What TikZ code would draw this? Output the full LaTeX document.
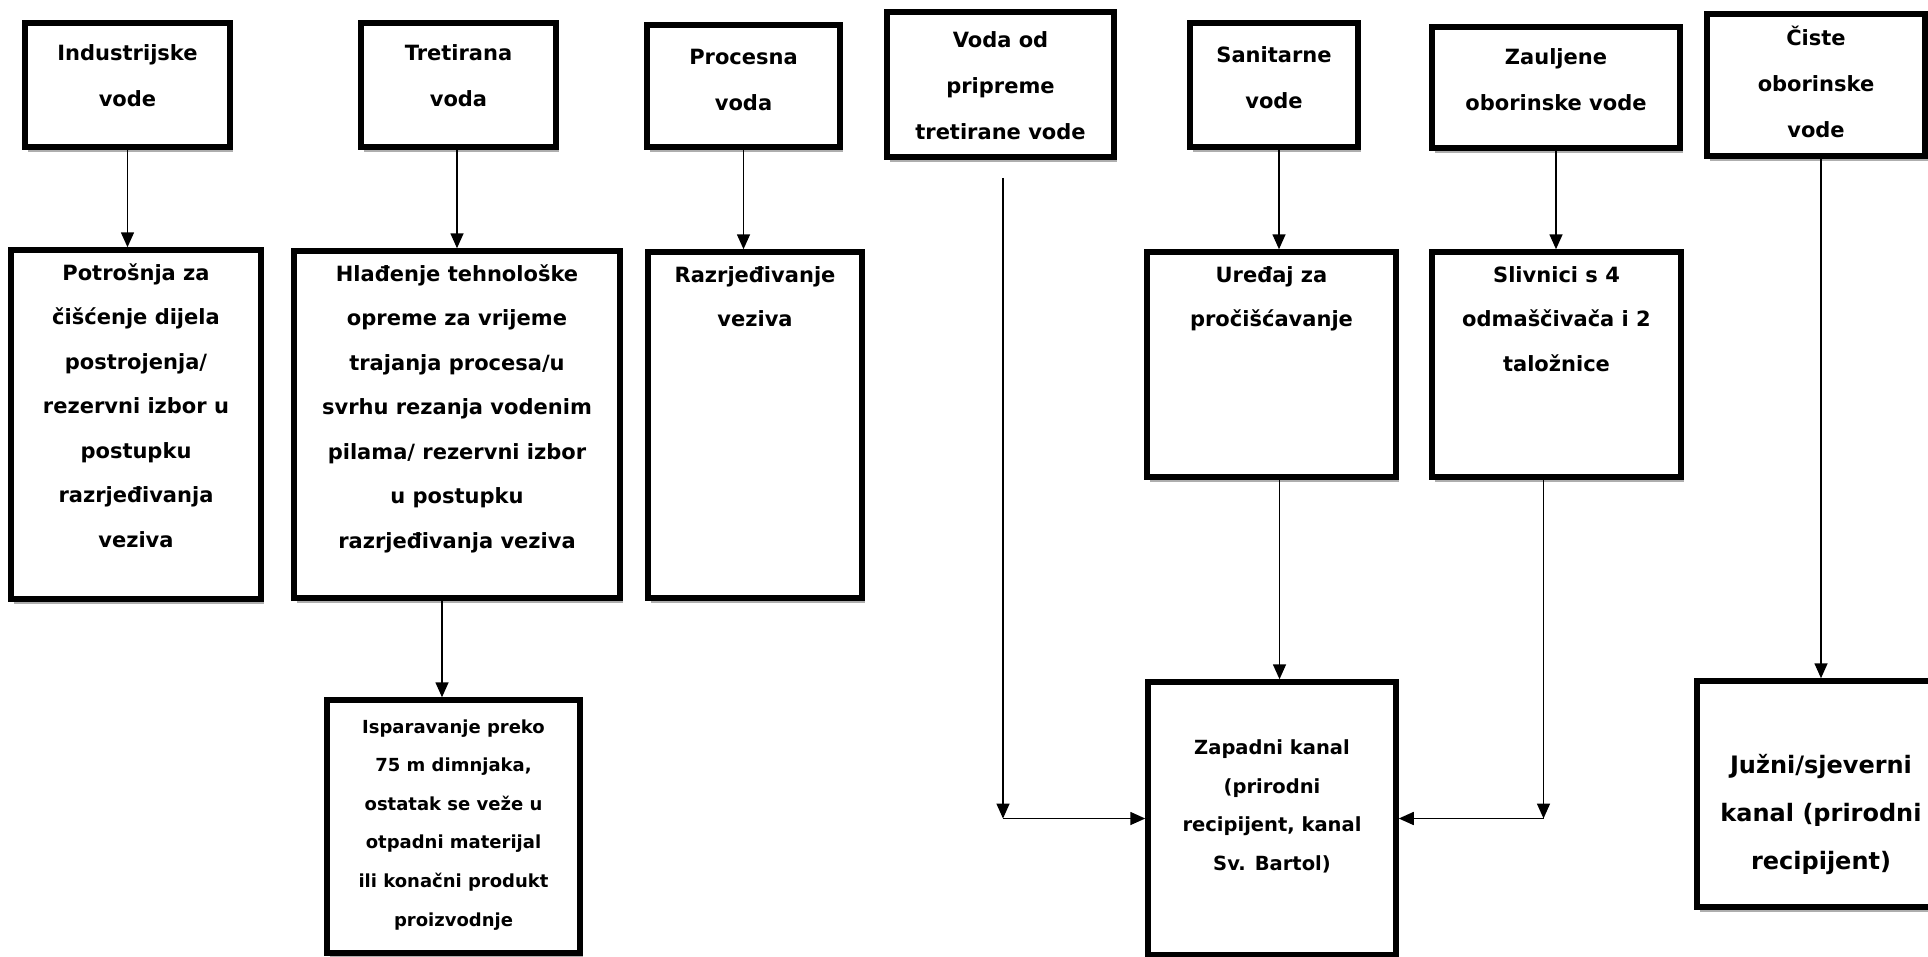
\documentclass[tikz,border=0pt]{standalone}
\usepackage{fontspec}
\setmainfont{DejaVu Sans}
\usetikzlibrary{arrows.meta,shadows}
\def\topcell#1#2#3#4{\parbox[c][#2pt][t]{#1pt}{\centering\vspace*{#3pt}\strut#4\par}}

\begin{document}
\begin{tikzpicture}[x=1pt,y=-1pt,
		box/.style={draw, line width=5.5pt, fill=white, inner sep=0pt,
			drop shadow={shadow xshift=3pt, shadow yshift=-5pt, fill=black!45, opacity=0.7}},
		srcbox/.style={box, font=\bfseries\fontsize{21}{46}\selectfont},
		usebox/.style={box, font=\bfseries\fontsize{21}{44.5}\selectfont},
		arr/.style={-{Triangle[length=15pt,width=13pt]}, line width=1.6pt}]
				\fill[white] (0,0) rectangle (1928,956);
				\useasboundingbox (0,0) rectangle (1928,956);
				
				\node[srcbox] (ind) at (127.5,85) {\topcell{205}{124}{5}{Industrijske\\vode}};
				\node[srcbox] (tre) at (458.5,85) {\topcell{195}{124}{5}{Tretirana\\voda}};
				\node[srcbox] (pro) at (743.5,86) {\topcell{193}{122}{7}{Procesna\\voda}};
				\node[srcbox] (vod) at (1000.5,84.5) {\topcell{227}{145}{3}{Voda od\\pripreme\\tretirane vode}};
				\node[srcbox] (san) at (1274,85) {\topcell{168}{124}{7}{Sanitarne\\vode}};
				\node[srcbox] (zau) at (1556,87.5) {\topcell{248}{121}{5}{Zauljene\\oborinske vode}};
				\node[srcbox] (cis) at (1816,85) {\topcell{218}{142}{-1}{Čiste\\oborinske\\vode}};
				
				\node[usebox] (pot) at (136,424.5) {\topcell{250}{349}{-1}{Potrošnja za\\čišćenje dijela\\postrojenja/\\rezervni izbor u\\postupku\\razrjeđivanja\\veziva}};
				\node[usebox] (hla) at (457,424.5) {\topcell{326}{347}{-1}{Hlađenje tehnološke\\opreme za vrijeme\\trajanja procesa/u\\svrhu rezanja vodenim\\pilama/ rezervni izbor\\u postupku\\razrjeđivanja veziva}};
				\node[usebox] (raz) at (755,425) {\topcell{214}{346}{-1}{Razrjeđivanje\\veziva}};
				\node[usebox] (ure) at (1271.5,364.5) {\topcell{249}{225}{-1}{Uređaj za\\pročišćavanje}};
				\node[usebox] (sli) at (1556.5,364.5) {\topcell{249}{225}{-1}{Slivnici s 4\\odmaščivača i 2\\taložnice}};
				
				\node[usebox, font=\bfseries\fontsize{18}{38.6}\selectfont] (isp) at (453.5,826.5) {\topcell{253}{253}{6}{Isparavanje preko\\75 m dimnjaka,\\ostatak se veže u\\otpadni materijal\\ili konačni produkt\\proizvodnje}};
				\node[usebox, font=\bfseries\fontsize{19.5}{38.5}\selectfont] (zap) at (1272,818.5) {\topcell{248}{273}{46}{Zapadni kanal\\(prirodni\\recipijent, kanal\\Sv. Bartol)}};
				\node[usebox, font=\bfseries\fontsize{24}{48}\selectfont] (juz) at (1821,794) {\topcell{248}{226}{59}{Južni/sjeverni\\kanal (prirodni\\recipijent)}};
				
				\draw[arr] (ind.south) -- (ind.south |- pot.north);
				\draw[arr] (tre.south -| hla.north) -- (hla.north);
				\draw[arr] (pro.south) -- (pro.south |- raz.north);
				\draw[arr] ([xshift=-15pt]hla.south) -- ([xshift=-15pt]hla.south |- isp.north);
				\draw[arr] ([xshift=5pt]san.south) -- ([xshift=5pt]san.south |- ure.north);
				\draw[arr] ([xshift=8pt]ure.south) -- ([xshift=8pt]ure.south |- zap.north);
				\draw[arr] (zau.south) -- (zau.south |- sli.north);
				\draw[arr] (cis.south -| juz.north) -- (juz.north);
				
				\coordinate (vodtop) at ([xshift=2.5pt,yshift=-18pt]vod.south);
				\coordinate (lft) at (vodtop |- zap.west);
				\draw[arr] (vodtop) -- (lft);
				\draw[arr] (lft) -- (zap.west);
				
				\coordinate (slibot) at ([xshift=-13pt]sli.south);
				\coordinate (rgt) at (slibot |- zap.east);
				\draw[arr] (slibot) -- (rgt);
				\draw[arr] (rgt) -- (zap.east);
			\end{tikzpicture}
\end{document}
